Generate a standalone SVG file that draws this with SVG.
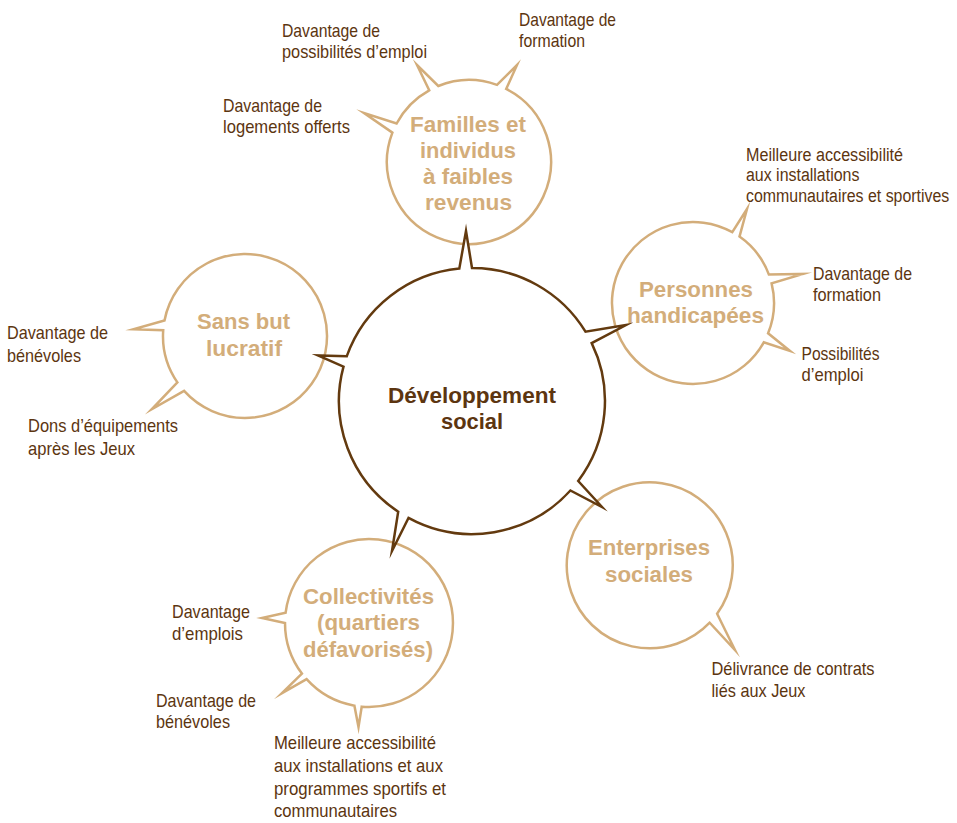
<svg xmlns="http://www.w3.org/2000/svg" width="957" height="823" viewBox="0 0 957 823">
<style>
.bub{fill:#ffffff;stroke:#d3ad7a;stroke-width:2.5;stroke-linejoin:miter;stroke-miterlimit:14}
.core{fill:#ffffff;stroke:#633a0f;stroke-width:2.5;stroke-linejoin:miter;stroke-miterlimit:14}
.ttl{font-family:"Liberation Sans",Arial,sans-serif;font-weight:bold;font-size:22px;fill:#d3ad7a}
.ctl{font-family:"Liberation Sans",Arial,sans-serif;font-weight:bold;font-size:22px;fill:#5c3510}
.lbl{font-family:"Liberation Sans",Arial,sans-serif;font-size:19px;fill:#5c3510}
</style>
<rect width="957" height="823" fill="#ffffff"/>

<g id="familles">
<path class="bub" d="M392.4,132.6 L364,113 L396.6,123.5 A82,82 0 0 1 429.2,90.3 L417,65 L438.3,86.0 A82,82 0 0 1 497.0,84.9 L517,65 L506.2,88.9 A82,82 0 1 1 392.4,132.6 Z"/>
<text class="ttl"><tspan x="410" y="132" textLength="116" lengthAdjust="spacingAndGlyphs">Familles et</tspan><tspan x="420" y="158" textLength="96" lengthAdjust="spacingAndGlyphs">individus</tspan><tspan x="423" y="184" textLength="90" lengthAdjust="spacingAndGlyphs">à faibles</tspan><tspan x="425" y="210" textLength="87" lengthAdjust="spacingAndGlyphs">revenus</tspan></text>
</g>

<g id="personnes">
<path class="bub" d="M732.3,232.2 L747,209 L739.5,236.6 A81,81 0 0 1 768.9,274.6 L803,274 L771.6,283.4 A81,81 0 0 1 768.1,333.3 L790,351 L763.8,342.3 A81,81 0 1 1 732.3,232.2 Z"/>
<text class="ttl"><tspan x="639" y="297" textLength="114" lengthAdjust="spacingAndGlyphs">Personnes</tspan><tspan x="627" y="323" textLength="137" lengthAdjust="spacingAndGlyphs">handicapées</tspan></text>
</g>

<g id="enterprises">
<path class="bub" d="M717.1,613.8 L735,650 L709.7,622.7 A83,83 0 1 1 717.1,613.8 Z"/>
<text class="ttl"><tspan x="588" y="555" textLength="122" lengthAdjust="spacingAndGlyphs">Enterprises</tspan><tspan x="605" y="582" textLength="88" lengthAdjust="spacingAndGlyphs">sociales</tspan></text>
</g>

<g id="collectivites">
<path class="bub" d="M361.7,706.7 L358.5,727 L354.4,705.7 A84,84 0 0 1 306.6,679.2 L281.7,693.3 L301.9,673.6 A84,84 0 0 1 285,623 L262,618 L285.6,612.8 A84,84 0 1 1 361.7,706.7 Z"/>
<text class="ttl"><tspan x="303" y="604" textLength="131" lengthAdjust="spacingAndGlyphs">Collectivités</tspan><tspan x="317" y="630" textLength="103" lengthAdjust="spacingAndGlyphs">(quartiers</tspan><tspan x="303" y="657" textLength="130" lengthAdjust="spacingAndGlyphs">défavorisés)</tspan></text>
</g>

<g id="sansbut">
<path class="bub" d="M184.1,390.9 L151.7,409.3 L177.4,382.4 A82,82 0 0 1 163.2,330.3 L133.3,329.3 L164.5,320.4 A82,82 0 1 1 184.1,390.9 Z"/>
<text class="ttl"><tspan x="197" y="329" textLength="93" lengthAdjust="spacingAndGlyphs">Sans but</tspan><tspan x="206" y="356" textLength="76" lengthAdjust="spacingAndGlyphs">lucratif</tspan></text>
</g>

<g id="developpement">
<path class="core" d="M346.8,356.2 A133,133 0 0 1 459.3,268.6 L466,231 L472,268 A133,133 0 0 1 585.5,331.7 L626,325 L591.7,343.1 A133,133 0 0 1 578.2,481.0 L602,507 L570.4,490.5 A133,133 0 0 1 408.5,517.9 L392,551 L398.2,511.7 A133,133 0 0 1 343.5,366.6 L318,355.5 Z"/>
<text class="ctl"><tspan x="388" y="403" textLength="168" lengthAdjust="spacingAndGlyphs">Développement</tspan><tspan x="441" y="429" textLength="62" lengthAdjust="spacingAndGlyphs">social</tspan></text>
</g>

<g id="labels">
<text class="lbl"><tspan x="282" y="37" textLength="98" lengthAdjust="spacingAndGlyphs">Davantage de</tspan><tspan x="282" y="58" textLength="145" lengthAdjust="spacingAndGlyphs">possibilités d’emploi</tspan></text>
<text class="lbl"><tspan x="519" y="26" textLength="97" lengthAdjust="spacingAndGlyphs">Davantage de</tspan><tspan x="519" y="47" textLength="66" lengthAdjust="spacingAndGlyphs">formation</tspan></text>
<text class="lbl"><tspan x="223" y="112" textLength="99" lengthAdjust="spacingAndGlyphs">Davantage de</tspan><tspan x="223" y="133" textLength="127" lengthAdjust="spacingAndGlyphs">logements offerts</tspan></text>
<text class="lbl" transform="translate(746,0) scale(0.84,1)"><tspan x="0" y="161" textLength="187" lengthAdjust="spacingAndGlyphs">Meilleure accessibilité</tspan><tspan x="0" y="181" textLength="135" lengthAdjust="spacingAndGlyphs">aux installations</tspan><tspan x="0" y="202" textLength="242" lengthAdjust="spacingAndGlyphs">communautaires et sportives</tspan></text>
<text class="lbl"><tspan x="813" y="280" textLength="99" lengthAdjust="spacingAndGlyphs">Davantage de</tspan><tspan x="813" y="301" textLength="68" lengthAdjust="spacingAndGlyphs">formation</tspan></text>
<text class="lbl"><tspan x="801.5" y="360" textLength="78" lengthAdjust="spacingAndGlyphs">Possibilités</tspan><tspan x="801.5" y="381" textLength="62" lengthAdjust="spacingAndGlyphs">d’emploi</tspan></text>
<text class="lbl"><tspan x="711.5" y="675" textLength="163" lengthAdjust="spacingAndGlyphs">Délivrance de contrats</tspan><tspan x="711.5" y="697" textLength="94" lengthAdjust="spacingAndGlyphs">liés aux Jeux</tspan></text>
<text class="lbl"><tspan x="172" y="618" textLength="78" lengthAdjust="spacingAndGlyphs">Davantage</tspan><tspan x="172" y="640" textLength="71" lengthAdjust="spacingAndGlyphs">d’emplois</tspan></text>
<text class="lbl"><tspan x="156" y="707" textLength="100" lengthAdjust="spacingAndGlyphs">Davantage de</tspan><tspan x="156" y="728" textLength="74" lengthAdjust="spacingAndGlyphs">bénévoles</tspan></text>
<text class="lbl"><tspan x="274" y="749" textLength="162" lengthAdjust="spacingAndGlyphs">Meilleure accessibilité</tspan><tspan x="274" y="772" textLength="169" lengthAdjust="spacingAndGlyphs">aux installations et aux</tspan><tspan x="274" y="795" textLength="172" lengthAdjust="spacingAndGlyphs">programmes sportifs et</tspan><tspan x="274" y="817" textLength="123" lengthAdjust="spacingAndGlyphs">communautaires</tspan></text>
<text class="lbl"><tspan x="7" y="339" textLength="101" lengthAdjust="spacingAndGlyphs">Davantage de</tspan><tspan x="7" y="362" textLength="74" lengthAdjust="spacingAndGlyphs">bénévoles</tspan></text>
<text class="lbl"><tspan x="28" y="432" textLength="150" lengthAdjust="spacingAndGlyphs">Dons d’équipements</tspan><tspan x="28" y="455" textLength="107" lengthAdjust="spacingAndGlyphs">après les Jeux</tspan></text>
</g>
</svg>
